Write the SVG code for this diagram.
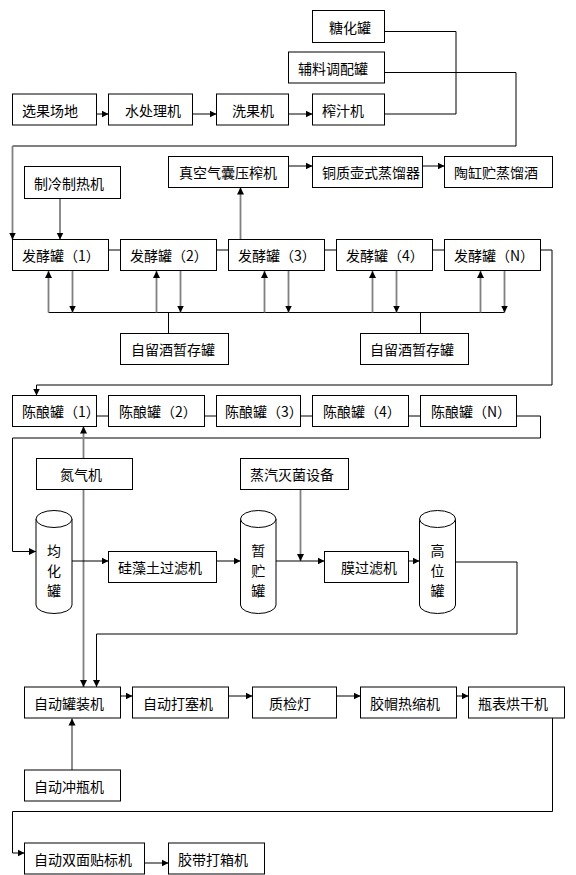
<svg xmlns="http://www.w3.org/2000/svg" width="576" height="875" viewBox="0 0 576 875">
<style>
.b rect{fill:#fff;stroke:#000;stroke-width:1}
.b text,.c text{font-family:"Noto Sans CJK SC","Liberation Sans",sans-serif;font-size:14px;fill:#000;dominant-baseline:central}
.cy ellipse,.cy path{fill:#fff;stroke:#000;stroke-width:1}
.k{fill:none;stroke:#000;stroke-width:1}
.g{fill:none;stroke:#808080;stroke-width:1.8}
.a{marker-end:url(#ah)}
</style>
<defs>
<marker id="ah" markerWidth="8" markerHeight="8" refX="7" refY="4" orient="auto" markerUnits="userSpaceOnUse"><path d="M0,0.5 L7,4 L0,7.5 z" fill="#000"/></marker>
</defs>
<rect width="576" height="875" fill="#fff"/>
<g id="connectors">
<path class="k a" d="M96.5,114 H108.5"/>
<path class="k a" d="M192.5,114 H216.5"/>
<path class="k a" d="M288.5,114 H312.5"/>
<path class="k" d="M384.5,31.5 H456 V114 H384.5"/>
<path class="k" d="M384.5,72.5 H516 V146 H12.5"/>
<path class="g a" d="M12.5,146 V239.5"/>
<path class="k a" d="M288.5,166 H312.5"/>
<path class="k a" d="M422.5,166 H444.5"/>
<path class="g a" d="M60,198.5 V239.5"/>
<path class="k" d="M108.5,250 H120.5 M216.5,250 H228.5 M324.5,250 H336.5 M432.5,250 H444.5"/>
<path class="g a" d="M240.5,239.5 V187.5"/>
<path class="k" d="M48.5,312.5 H504.5 M168.5,312.5 V333.5 M420.5,312.5 V333.5"/>
<path class="g a" d="M48.5,312.5 V271"/>
<path class="g a" d="M156.5,312.5 V271"/>
<path class="g a" d="M264.5,312.5 V271"/>
<path class="g a" d="M372.5,312.5 V271"/>
<path class="g a" d="M480.5,312.5 V271"/>
<path class="g a" d="M72.5,270.5 V312.5"/>
<path class="g a" d="M180.5,270.5 V312.5"/>
<path class="g a" d="M288.5,270.5 V312.5"/>
<path class="g a" d="M396.5,270.5 V312.5"/>
<path class="g a" d="M504.5,270.5 V312.5"/>
<path class="k a" d="M540.5,250 H552 V385 H36.5 V395.5"/>
<path class="k" d="M96.5,416 H108.5 M204.5,416 H216.5 M300.5,416 H312.5 M408.5,416 H420.5"/>
<path class="k a" d="M516.5,416 H540.5 V438 H12.5 V551.5 H36"/>
<path class="g a" d="M83.5,458.5 V426.5"/>
<path class="g a" d="M83.5,489.5 V687"/>
<path class="g a" d="M300.5,489.5 V561"/>
<path class="k a" d="M72,561 H108.5"/>
<path class="k a" d="M216.5,561 H240.5"/>
<path class="k a" d="M276,561 H324.5"/>
<path class="k a" d="M408.5,561 H419.5"/>
<path class="k a" d="M455.5,562 H517 V634 H96.5 V687"/>
<path class="k a" d="M120.5,696 H132.5"/>
<path class="k a" d="M228.5,696 H252.5"/>
<path class="k a" d="M336.5,696 H360.5"/>
<path class="k a" d="M456.5,696 H468.5"/>
<path class="g a" d="M72,770 V718.5"/>
<path class="k a" d="M552.5,718 V811.5 H12.5 V853 H24.5"/>
<path class="k a" d="M144.5,863 H168.5"/>
</g>
<g id="n-tanghua" class="b"><rect x="312.5" y="10.5" width="72" height="32"/><text x="329" y="26.5">糖化罐</text></g>
<g id="n-fuliao" class="b"><rect x="288.5" y="52" width="96" height="31"/><text x="298" y="67.5">辅料调配罐</text></g>
<g id="n-xuanguo" class="b"><rect x="12.5" y="94" width="84" height="31"/><text x="22" y="109.7">选果场地</text></g>
<g id="n-shuichuli" class="b"><rect x="108.5" y="94" width="84" height="31"/><text x="125" y="109.7">水处理机</text></g>
<g id="n-xiguo" class="b"><rect x="216.5" y="94" width="72" height="31"/><text x="232" y="109.7">洗果机</text></g>
<g id="n-zhazhi" class="b"><rect x="312.5" y="94" width="72" height="31"/><text x="322" y="109.7">榨汁机</text></g>
<g id="n-zhenkong" class="b"><rect x="168.5" y="156.5" width="120" height="31"/><text x="179" y="172">真空气囊压榨机</text></g>
<g id="n-tongzhi" class="b"><rect x="312.5" y="156.5" width="110" height="31"/><text x="322" y="172">铜质壶式蒸馏器</text></g>
<g id="n-taogang" class="b"><rect x="444.5" y="156.5" width="108" height="31"/><text x="454" y="172">陶缸贮蒸馏酒</text></g>
<g id="n-zhileng" class="b"><rect x="24.5" y="166.5" width="96" height="32"/><text x="34" y="182.5">制冷制热机</text></g>
<g id="n-fj1" class="b"><rect x="12.5" y="239.5" width="96" height="31"/><text x="22" y="255">发酵罐（1）</text></g>
<g id="n-fj2" class="b"><rect x="120.5" y="239.5" width="96" height="31"/><text x="130" y="255">发酵罐（2）</text></g>
<g id="n-fj3" class="b"><rect x="228.5" y="239.5" width="96" height="31"/><text x="238" y="255">发酵罐（3）</text></g>
<g id="n-fj4" class="b"><rect x="336.5" y="239.5" width="96" height="31"/><text x="346" y="255">发酵罐（4）</text></g>
<g id="n-fjN" class="b"><rect x="444.5" y="239.5" width="96" height="31"/><text x="454" y="255">发酵罐（N）</text></g>
<g id="n-ziliu1" class="b"><rect x="120.5" y="333.5" width="108" height="31"/><text x="131" y="349">自留酒暂存罐</text></g>
<g id="n-ziliu2" class="b"><rect x="360.5" y="333.5" width="108" height="31"/><text x="370" y="349">自留酒暂存罐</text></g>
<g id="n-cn1" class="b"><rect x="12.5" y="395.5" width="84" height="31"/><text x="22" y="411">陈酿罐（1）</text></g>
<g id="n-cn2" class="b"><rect x="108.5" y="395.5" width="96" height="31"/><text x="119" y="411">陈酿罐（2）</text></g>
<g id="n-cn3" class="b"><rect x="216.5" y="395.5" width="84" height="31"/><text x="225" y="411">陈酿罐（3）</text></g>
<g id="n-cn4" class="b"><rect x="312.5" y="395.5" width="96" height="31"/><text x="323" y="411">陈酿罐（4）</text></g>
<g id="n-cnN" class="b"><rect x="420.5" y="395.5" width="96" height="31"/><text x="431" y="411">陈酿罐（N）</text></g>
<g id="n-danqi" class="b"><rect x="36.5" y="458.5" width="96" height="31"/><text x="60" y="474">氮气机</text></g>
<g id="n-zhengqi" class="b"><rect x="240.5" y="458.5" width="108" height="31"/><text x="250" y="474">蒸汽灭菌设备</text></g>
<g id="n-junhua" class="cy"><path d="M36,519 V605 A18,8.5 0 0 0 72,605 V519"/><ellipse cx="54" cy="519" rx="18" ry="8.5"/><g class="c"><text x="54" y="550" text-anchor="middle">均</text><text x="54" y="570" text-anchor="middle">化</text><text x="54" y="590" text-anchor="middle">罐</text></g></g>
<g id="n-guizao" class="b"><rect x="108.5" y="551.5" width="108" height="31"/><text x="118" y="567">硅藻土过滤机</text></g>
<g id="n-zanzhu" class="cy"><path d="M240.5,519 V605 A17.75,8.5 0 0 0 276,605 V519"/><ellipse cx="258.25" cy="519" rx="17.75" ry="8.5"/><g class="c"><text x="258.25" y="550" text-anchor="middle">暂</text><text x="258.25" y="570" text-anchor="middle">贮</text><text x="258.25" y="590" text-anchor="middle">罐</text></g></g>
<g id="n-mo" class="b"><rect x="324.5" y="551.5" width="84" height="31"/><text x="341" y="567">膜过滤机</text></g>
<g id="n-gaowei" class="cy"><path d="M419.5,519 V605 A18,8.5 0 0 0 455.5,605 V519"/><ellipse cx="437.5" cy="519" rx="18" ry="8.5"/><g class="c"><text x="437.5" y="550" text-anchor="middle">高</text><text x="437.5" y="570" text-anchor="middle">位</text><text x="437.5" y="590" text-anchor="middle">罐</text></g></g>
<g id="n-guanzhuang" class="b"><rect x="24.5" y="687" width="96" height="31"/><text x="34" y="702.5">自动罐装机</text></g>
<g id="n-dasai" class="b"><rect x="132.5" y="687" width="96" height="31"/><text x="143" y="702.5">自动打塞机</text></g>
<g id="n-zhijian" class="b"><rect x="252.5" y="687" width="84" height="31"/><text x="269" y="702.5">质检灯</text></g>
<g id="n-jiaomao" class="b"><rect x="360.5" y="687" width="96" height="31"/><text x="370" y="702.5">胶帽热缩机</text></g>
<g id="n-hongan" class="b"><rect x="468.5" y="687" width="96" height="31"/><text x="478" y="702.5">瓶表烘干机</text></g>
<g id="n-chongping" class="b"><rect x="24.5" y="770" width="96" height="31"/><text x="34" y="785.5">自动冲瓶机</text></g>
<g id="n-tiebiao" class="b"><rect x="24.5" y="843" width="120" height="31"/><text x="34" y="858.5">自动双面贴标机</text></g>
<g id="n-dabiao" class="b"><rect x="168.5" y="843" width="96" height="31"/><text x="178" y="858.5">胶带打箱机</text></g>
</svg>
